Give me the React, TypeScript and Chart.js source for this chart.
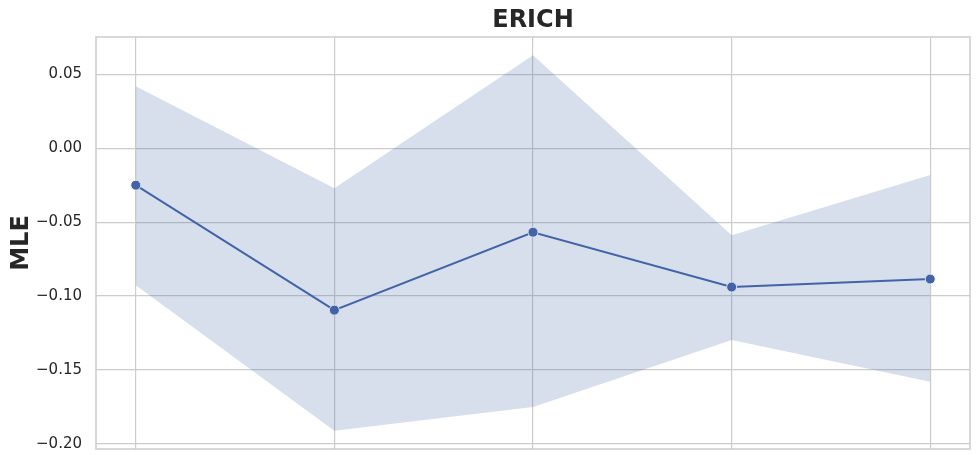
import React, { useEffect, useRef } from "react";
import { Chart, registerables } from "chart.js";

Chart.register(...registerables);

const categories = [0, 1, 2, 3, 4];
const mleValues = [-0.025, -0.1095, -0.0568, -0.0939, -0.0885];
const upperValues = [0.0419, -0.027, 0.0628, -0.0588, -0.0182];
const lowerValues = [-0.0926, -0.191, -0.175, -0.1297, -0.158];
const yTicks = [-0.2, -0.15, -0.1, -0.05, 0.0, 0.05];

const frame = {
  id: "frame",
  afterDraw(chart: any) {
    const { ctx, chartArea } = chart;
    ctx.save();
    ctx.strokeStyle = "#cccccc";
    ctx.lineWidth = 1.5;
    ctx.strokeRect(chartArea.left, chartArea.top, chartArea.right - chartArea.left, chartArea.bottom - chartArea.top);
    ctx.restore();
  },
};

export default function App() {
  const ref = useRef<HTMLCanvasElement>(null);
  useEffect(() => {
    const toPts = (arr: number[]) => categories.map((c, i) => ({ x: c, y: arr[i] }));
    const chart = new Chart(ref.current!, {
      type: "line",
      data: {
        datasets: [
          {
            data: toPts(lowerValues),
            borderWidth: 0,
            pointRadius: 0,
            borderColor: "rgba(0,0,0,0)",
            fill: false,
          },
          {
            data: toPts(upperValues),
            borderWidth: 0,
            pointRadius: 0,
            borderColor: "rgba(0,0,0,0)",
            backgroundColor: "rgba(66,99,166,0.21)",
            fill: "-1",
          },
          {
            data: toPts(mleValues),
            borderColor: "#4264a8",
            borderWidth: 2,
            pointRadius: 5,
            pointBackgroundColor: "#4264a8",
            pointBorderColor: "#ffffff",
            pointBorderWidth: 1,
            fill: false,
          },
        ],
      },
      options: {
        animation: false,
        responsive: false,
        maintainAspectRatio: false,
        layout: { padding: { left: 0, right: 8, top: 0, bottom: 0 } },
        plugins: {
          legend: { display: false },
          tooltip: { enabled: false },
          title: {
            display: true,
            text: "ERICH",
            fullSize: false,
            color: "#262626",
            font: { family: "DejaVu Sans", size: 24, weight: "bold" },
            padding: { top: 6, bottom: 2.2 },
          },
        },
        scales: {
          x: {
            type: "linear",
            min: -0.2,
            max: 4.2,
            afterBuildTicks: (s: any) => {
              s.ticks = categories.map((v) => ({ value: v }));
            },
            afterFit: (s: any) => {
              s.height = 3;
              s.paddingLeft = 0;
              s.paddingRight = 0;
            },
            ticks: { display: false },
            grid: { color: "#cccccc", lineWidth: 1.2, drawTicks: false },
            border: { display: false },
          },
          y: {
            type: "linear",
            min: -0.2034,
            max: 0.0752,
            afterBuildTicks: (s: any) => {
              s.ticks = yTicks.map((v) => ({ value: v }));
            },
            afterFit: (s: any) => {
              s.width = 96;
              s.paddingTop = 0;
              s.paddingBottom = 0;
            },
            ticks: {
              color: "#262626",
              padding: 14,
              font: { family: "DejaVu Sans", size: 15 },
              callback: (v: any) => Number(v).toFixed(2).replace("-", "\u2212"),
            },
            grid: { color: "#cccccc", lineWidth: 1.2, drawTicks: false },
            border: { display: false },
            title: {
              display: true,
              text: "MLE",
              color: "#262626",
              font: { family: "DejaVu Sans", size: 24, weight: "bold" },
              padding: { top: 7, bottom: 0 },
            },
          },
        },
      },
      plugins: [frame],
    });
    return () => chart.destroy();
  }, []);
  return (
    <div style={{ position: "fixed", left: 0, top: 0, width: 978, height: 455, background: "#fff" }}>
      <canvas ref={ref} width={978} height={455} style={{ width: 978, height: 455 }} />
    </div>
  );
}
